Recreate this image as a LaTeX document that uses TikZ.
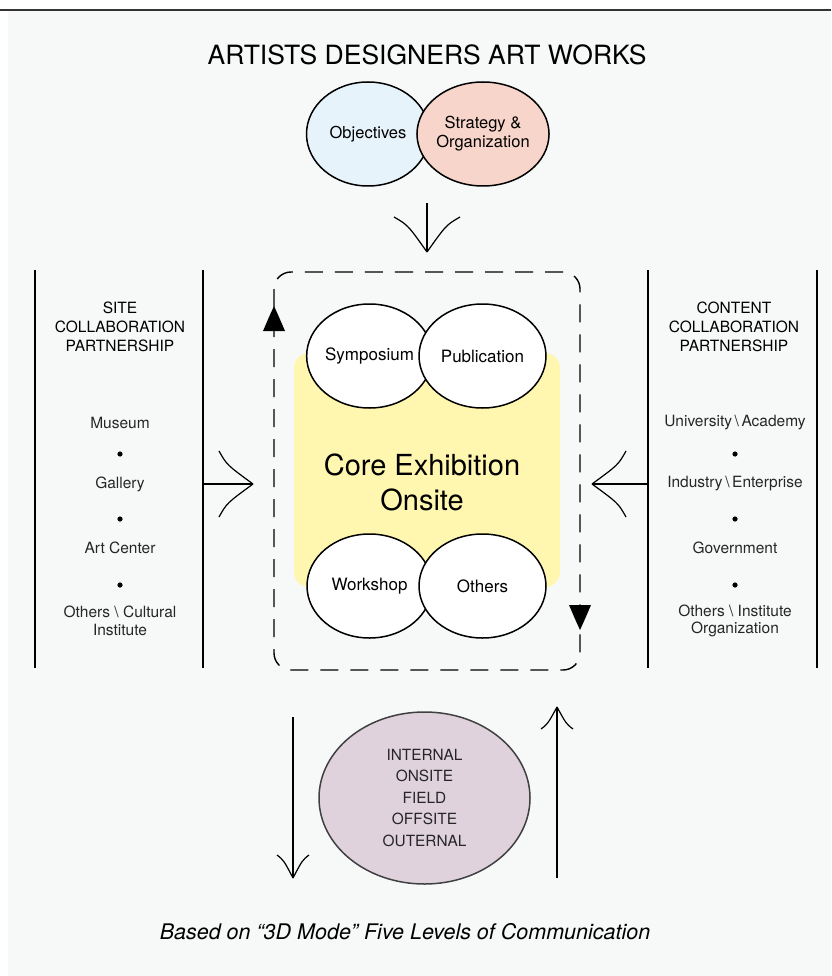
\documentclass[tikz,border=0pt]{standalone}
\usepackage{fontspec}
\setmainfont{TeX Gyre Heros}
\usetikzlibrary{calc,shapes.geometric}

\definecolor{paperbg}{HTML}{F7F9F8}
\definecolor{objblue}{HTML}{E7F3FA}
\definecolor{stratpink}{HTML}{F8D5CA}
\definecolor{coreyellow}{HTML}{FFF7B0}
\definecolor{levelmauve}{HTML}{E0D2DD}

\tikzset{
  bubble/.style={ellipse,draw,line width=1.5,fill=white,minimum width=125,minimum height=104,inner sep=0,align=center},
  shaft/.style={line width=1.2},
  frameline/.style={line width=1.2},
  listtext/.style={font=\fontsize{15.5}{17}\selectfont,text=black!85,align=center},
  headtext/.style={font=\fontsize{15.5}{19}\selectfont,align=center},
}

% open arrow head with curved barbs: tip, angle, length, half width
\newcommand{\flaretip}[4]{%
  \begin{scope}[shift={(#1)},rotate=#2]
    \draw[shaft] (0,0) .. controls (-0.77*#3,0.58*#4) .. (-#3,#4);
    \draw[shaft] (0,0) .. controls (-0.77*#3,-0.58*#4) .. (-#3,-#4);
  \end{scope}}
% filled head sitting on the dashed loop
\newcommand{\looptip}[2]{%
  \begin{scope}[shift={(#1)},rotate=#2]
    \fill (0,0) .. controls (-11,5) .. (-25,11) -- (-25,-11) .. controls (-11,-5) .. cycle;
  \end{scope}}

\begin{document}
\begin{tikzpicture}[x=1pt,y=-1pt]
\useasboundingbox (0,0) rectangle (831,976);
\fill[paperbg] (8,10) rectangle (831,976);
\draw[line width=1.4,black!80] (0,10) -- (831,10);

% title and the two goals
\node[font=\fontsize{26.5}{30}\selectfont] (title) at (427,55) {ARTISTS DESIGNERS ART WORKS};
\node[bubble,fill=objblue,minimum width=123,font=\fontsize{16.5}{19}\selectfont] (obj) at (368,134) {Objectives};
\node[bubble,fill=stratpink,minimum width=128,font=\fontsize{16.5}{19}\selectfont] (strat) at (483,134) {Strategy \&\\Organization};

\coordinate (downS) at (427,203);
\coordinate (downT) at (427,252);
\draw[shaft] (downS) -- (downT);
\flaretip{downT}{-90}{35}{33}

% side columns
\draw[frameline] (35,270) coordinate (lA) -- (35,668);
\draw[frameline] (203,270) coordinate (lB) -- (203,668);
\draw[frameline] (648,270) coordinate (rA) -- (648,668);
\draw[frameline] (817,270) coordinate (rB) -- (817,668);

\node[headtext] (siteHead) at (120,327) {SITE\\COLLABORATION\\PARTNERSHIP};
\node[headtext] (contHead) at (734,327) {CONTENT\\COLLABORATION\\PARTNERSHIP};

\node[listtext] (museum) at (120,423) {Museum};
\node[listtext] (gallery) at (120,484) {Gallery};
\node[listtext] (artc) at (120,548) {Art Center};
\node[listtext,font=\fontsize{15.5}{17.5}\selectfont] (cult) at (120,621) {Others \textbackslash\ Cultural\\Institute};

\node[listtext] (univ) at (735,423) {University\,\textbackslash\,Academy};
\node[listtext] (indus) at (735,484) {Industry\,\textbackslash\,Enterprise};
\node[listtext] (gov) at (735,548) {Government};
\node[listtext,font=\fontsize{15.5}{17.5}\selectfont] (inst) at (735,621) {Others \textbackslash\ Institute\\Organization};

\foreach \yy in {454,519,585} {
  \fill (120,\yy) circle (2.6);
  \fill (735,\yy) circle (2.6);
}

\coordinate (inL) at (203,484);
\coordinate (inLT) at (253,484);
\draw[shaft] (inL) -- (inLT);
\flaretip{inLT}{0}{34}{33}
\coordinate (inR) at (648,484);
\coordinate (inRT) at (592,484);
\draw[shaft] (inR) -- (inRT);
\flaretip{inRT}{180}{34}{33}

% core loop
\draw[line width=1.4,dash pattern=on 18 off 12,rounded corners=17] (274,272) rectangle (580,670);
\fill[coreyellow,rounded corners=15] (294,353) rectangle (560,587);
\coordinate (loopUp) at (274,306);
\coordinate (loopDown) at (580,630);
\looptip{loopUp}{90}
\looptip{loopDown}{-90}

\node[font=\fontsize{29}{35}\selectfont,align=center] (core) at (422,482) {Core Exhibition\\Onsite};
\node[bubble,font=\fontsize{17}{20}\selectfont] (sym) at (369.5,356) {Symposium};
\node[bubble,minimum width=127,font=\fontsize{17}{20}\selectfont] (pub) at (482.5,356) {Publication};
\node[bubble,font=\fontsize{17}{20}\selectfont] (work) at (369.5,586) {Workshop};
\node[bubble,minimum width=127,font=\fontsize{17}{20}\selectfont] (oth) at (482.5,586) {Others};

% five levels
\node[ellipse,draw=black!75,line width=1.5,fill=levelmauve,minimum width=211,minimum height=172,inner sep=0,align=center,font=\fontsize{15.4}{21.5}\selectfont,text=black!85] (levels) at (424.5,798) {INTERNAL\\ONSITE\\FIELD\\OFFSITE\\OUTERNAL};

\coordinate (outS) at (293,717);
\coordinate (outT) at (293,878);
\draw[shaft] (outS) -- (outT);
\flaretip{outT}{-90}{23}{16}
\coordinate (backS) at (557,878);
\coordinate (backT) at (557,707);
\draw[shaft] (backS) -- (backT);
\flaretip{backT}{90}{22}{16}

\node[font=\fontsize{21.5}{25}\selectfont\itshape] (note) at (405,932) {Based on “3D Mode” Five Levels of Communication};
\end{tikzpicture}
\end{document}
